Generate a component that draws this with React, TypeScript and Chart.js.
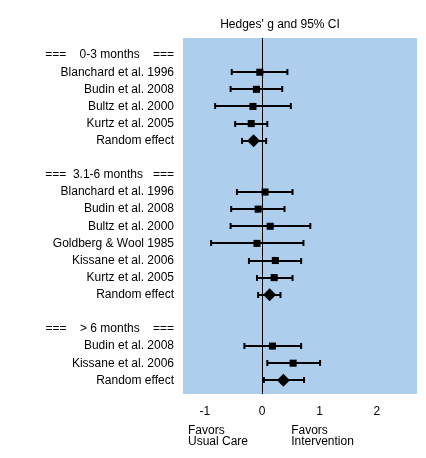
import React, { useEffect, useRef } from "react";
import { Chart, registerables } from "chart.js";

Chart.register(...registerables);

const rowLabels: string[] = [
  "===    0-3 months    ===",
  "Blanchard et al. 1996",
  "Budin et al. 2008",
  "Bultz et al. 2000",
  "Kurtz et al. 2005",
  "Random effect",
  "",
  "===  3.1-6 months   ===",
  "Blanchard et al. 1996",
  "Budin et al. 2008",
  "Bultz et al. 2000",
  "Goldberg & Wool 1985",
  "Kissane et al. 2006",
  "Kurtz et al. 2005",
  "Random effect",
  "",
  "===    > 6 months    ===",
  "Budin et al. 2008",
  "Kissane et al. 2006",
  "Random effect",
];

const estimates: (number | null)[] = [
  null, -0.04, -0.1, -0.16, -0.19, -0.15, null,
  null, 0.05, -0.07, 0.14, -0.09, 0.23, 0.21, 0.13, null,
  null, 0.18, 0.54, 0.37,
];
const lowerCI: (number | null)[] = [
  null, -0.53, -0.55, -0.82, -0.47, -0.35, null,
  null, -0.44, -0.54, -0.55, -0.89, -0.23, -0.09, -0.07, null,
  null, -0.31, 0.09, 0.03,
];
const upperCI: (number | null)[] = [
  null, 0.44, 0.35, 0.5, 0.09, 0.07, null,
  null, 0.53, 0.39, 0.84, 0.72, 0.68, 0.53, 0.32, null,
  null, 0.68, 1.01, 0.73,
];
const xTicks: number[] = [-1, 0, 1, 2];
const titleText = "Hedges' g and 95% CI";
const leftNote = ["Favors", "Usual Care"];
const rightNote = ["Favors", "Intervention"];

const FONT = "'Liberation Sans', Arial, sans-serif";

export default function App() {
  const ref = useRef<HTMLCanvasElement | null>(null);

  useEffect(() => {
    if (!ref.current) return;
    const isPooled = (i: number) => rowLabels[i] === "Random effect";
    const studies: { x: number; y: number }[] = [];
    const pooled: { x: number; y: number }[] = [];
    estimates.forEach((v, i) => {
      if (v === null) return;
      (isPooled(i) ? pooled : studies).push({ x: v, y: i });
    });

    const bgPlugin = {
      id: "bg",
      beforeDraw(chart: any) {
        const { ctx, chartArea } = chart;
        ctx.save();
        ctx.fillStyle = "rgb(173,207,237)";
        ctx.fillRect(chartArea.left, chartArea.top, chartArea.right - chartArea.left, chartArea.bottom - chartArea.top);
        ctx.restore();
      },
    };

    const errPlugin = {
      id: "errbars",
      beforeDatasetsDraw(chart: any) {
        const { ctx } = chart;
        const xs = chart.scales.x;
        const ys = chart.scales.y;
        ctx.save();
        ctx.strokeStyle = "#000";
        ctx.lineWidth = 2;
        estimates.forEach((v, i) => {
          const lo = lowerCI[i];
          const hi = upperCI[i];
          if (v === null || lo === null || hi === null) return;
          const y = Math.round(ys.getPixelForValue(i));
          const x1 = xs.getPixelForValue(lo);
          const x2 = xs.getPixelForValue(hi);
          ctx.beginPath();
          ctx.moveTo(x1, y);
          ctx.lineTo(x2, y);
          ctx.moveTo(x1, y - 3);
          ctx.lineTo(x1, y + 3);
          ctx.moveTo(x2, y - 3);
          ctx.lineTo(x2, y + 3);
          ctx.stroke();
        });
        ctx.restore();
      },
    };

    const textPlugin = {
      id: "texts",
      afterDraw(chart: any) {
        const { ctx, chartArea } = chart;
        const xs = chart.scales.x;
        ctx.save();
        ctx.fillStyle = "#000";
        ctx.font = `12px ${FONT}`;
        ctx.textBaseline = "middle";
        ctx.textAlign = "center";
        ctx.fillText(titleText, 280, 25);
        ctx.textAlign = "left";
        const lx = chartArea.left + 5;
        const rx = xs.getPixelForValue(0) + 29;
        const y0 = chartArea.bottom + 37;
        leftNote.forEach((t, k) => ctx.fillText(t, lx, y0 + k * 11));
        rightNote.forEach((t, k) => ctx.fillText(t, rx, y0 + k * 11));
        ctx.restore();
      },
    };

    const chart = new Chart(ref.current, {
      type: "scatter",
      data: {
        datasets: [
          {
            data: studies,
            pointStyle: "rect",
            pointRadius: 5,
            pointBorderWidth: 0,
            backgroundColor: "#000",
            borderColor: "#000",
          },
          {
            data: pooled,
            pointStyle: "rectRot",
            pointRadius: 6.5,
            pointBorderWidth: 0,
            backgroundColor: "#000",
            borderColor: "#000",
          },
        ],
      },
      options: {
        animation: false,
        responsive: false,
        layout: { padding: { top: 38, right: 9, bottom: 0, left: 0 } },
        plugins: {
          legend: { display: false },
          tooltip: { enabled: false },
          title: { display: false },
        },
        scales: {
          x: {
            type: "linear",
            min: -1.38,
            max: 2.7,
            afterBuildTicks: (s: any) => {
              s.ticks = xTicks.map((v) => ({ value: v }));
            },
            afterFit: (s: any) => {
              s.height = 64;
            },
            border: { display: false },
            grid: {
              drawTicks: false,
              lineWidth: 1,
              color: (c: any) => (c.tick && c.tick.value === 0 ? "#000" : "rgba(0,0,0,0)"),
            },
            ticks: {
              padding: 10,
              color: "#000",
              font: { family: FONT, size: 12 },
              callback: (v: any) => String(v),
            },
          },
          y: {
            type: "linear",
            reverse: true,
            min: -1,
            max: 19.8,
            afterBuildTicks: (s: any) => {
              s.ticks = rowLabels.map((_, i) => ({ value: i }));
            },
            afterFit: (s: any) => {
              s.width = 183;
            },
            border: { display: false },
            grid: { display: false, drawTicks: false },
            ticks: {
              autoSkip: false,
              padding: 9,
              color: "#000",
              font: { family: FONT, size: 12 },
              callback: (v: any) => rowLabels[v] ?? "",
            },
          },
        },
      } as any,
      plugins: [bgPlugin, errPlugin, textPlugin],
    });
    return () => chart.destroy();
  }, []);

  return (
    <div style={{ position: "absolute", left: 0, top: 0, width: 426, height: 458, background: "#fff" }}>
      <canvas ref={ref} width={426} height={458} />
    </div>
  );
}
